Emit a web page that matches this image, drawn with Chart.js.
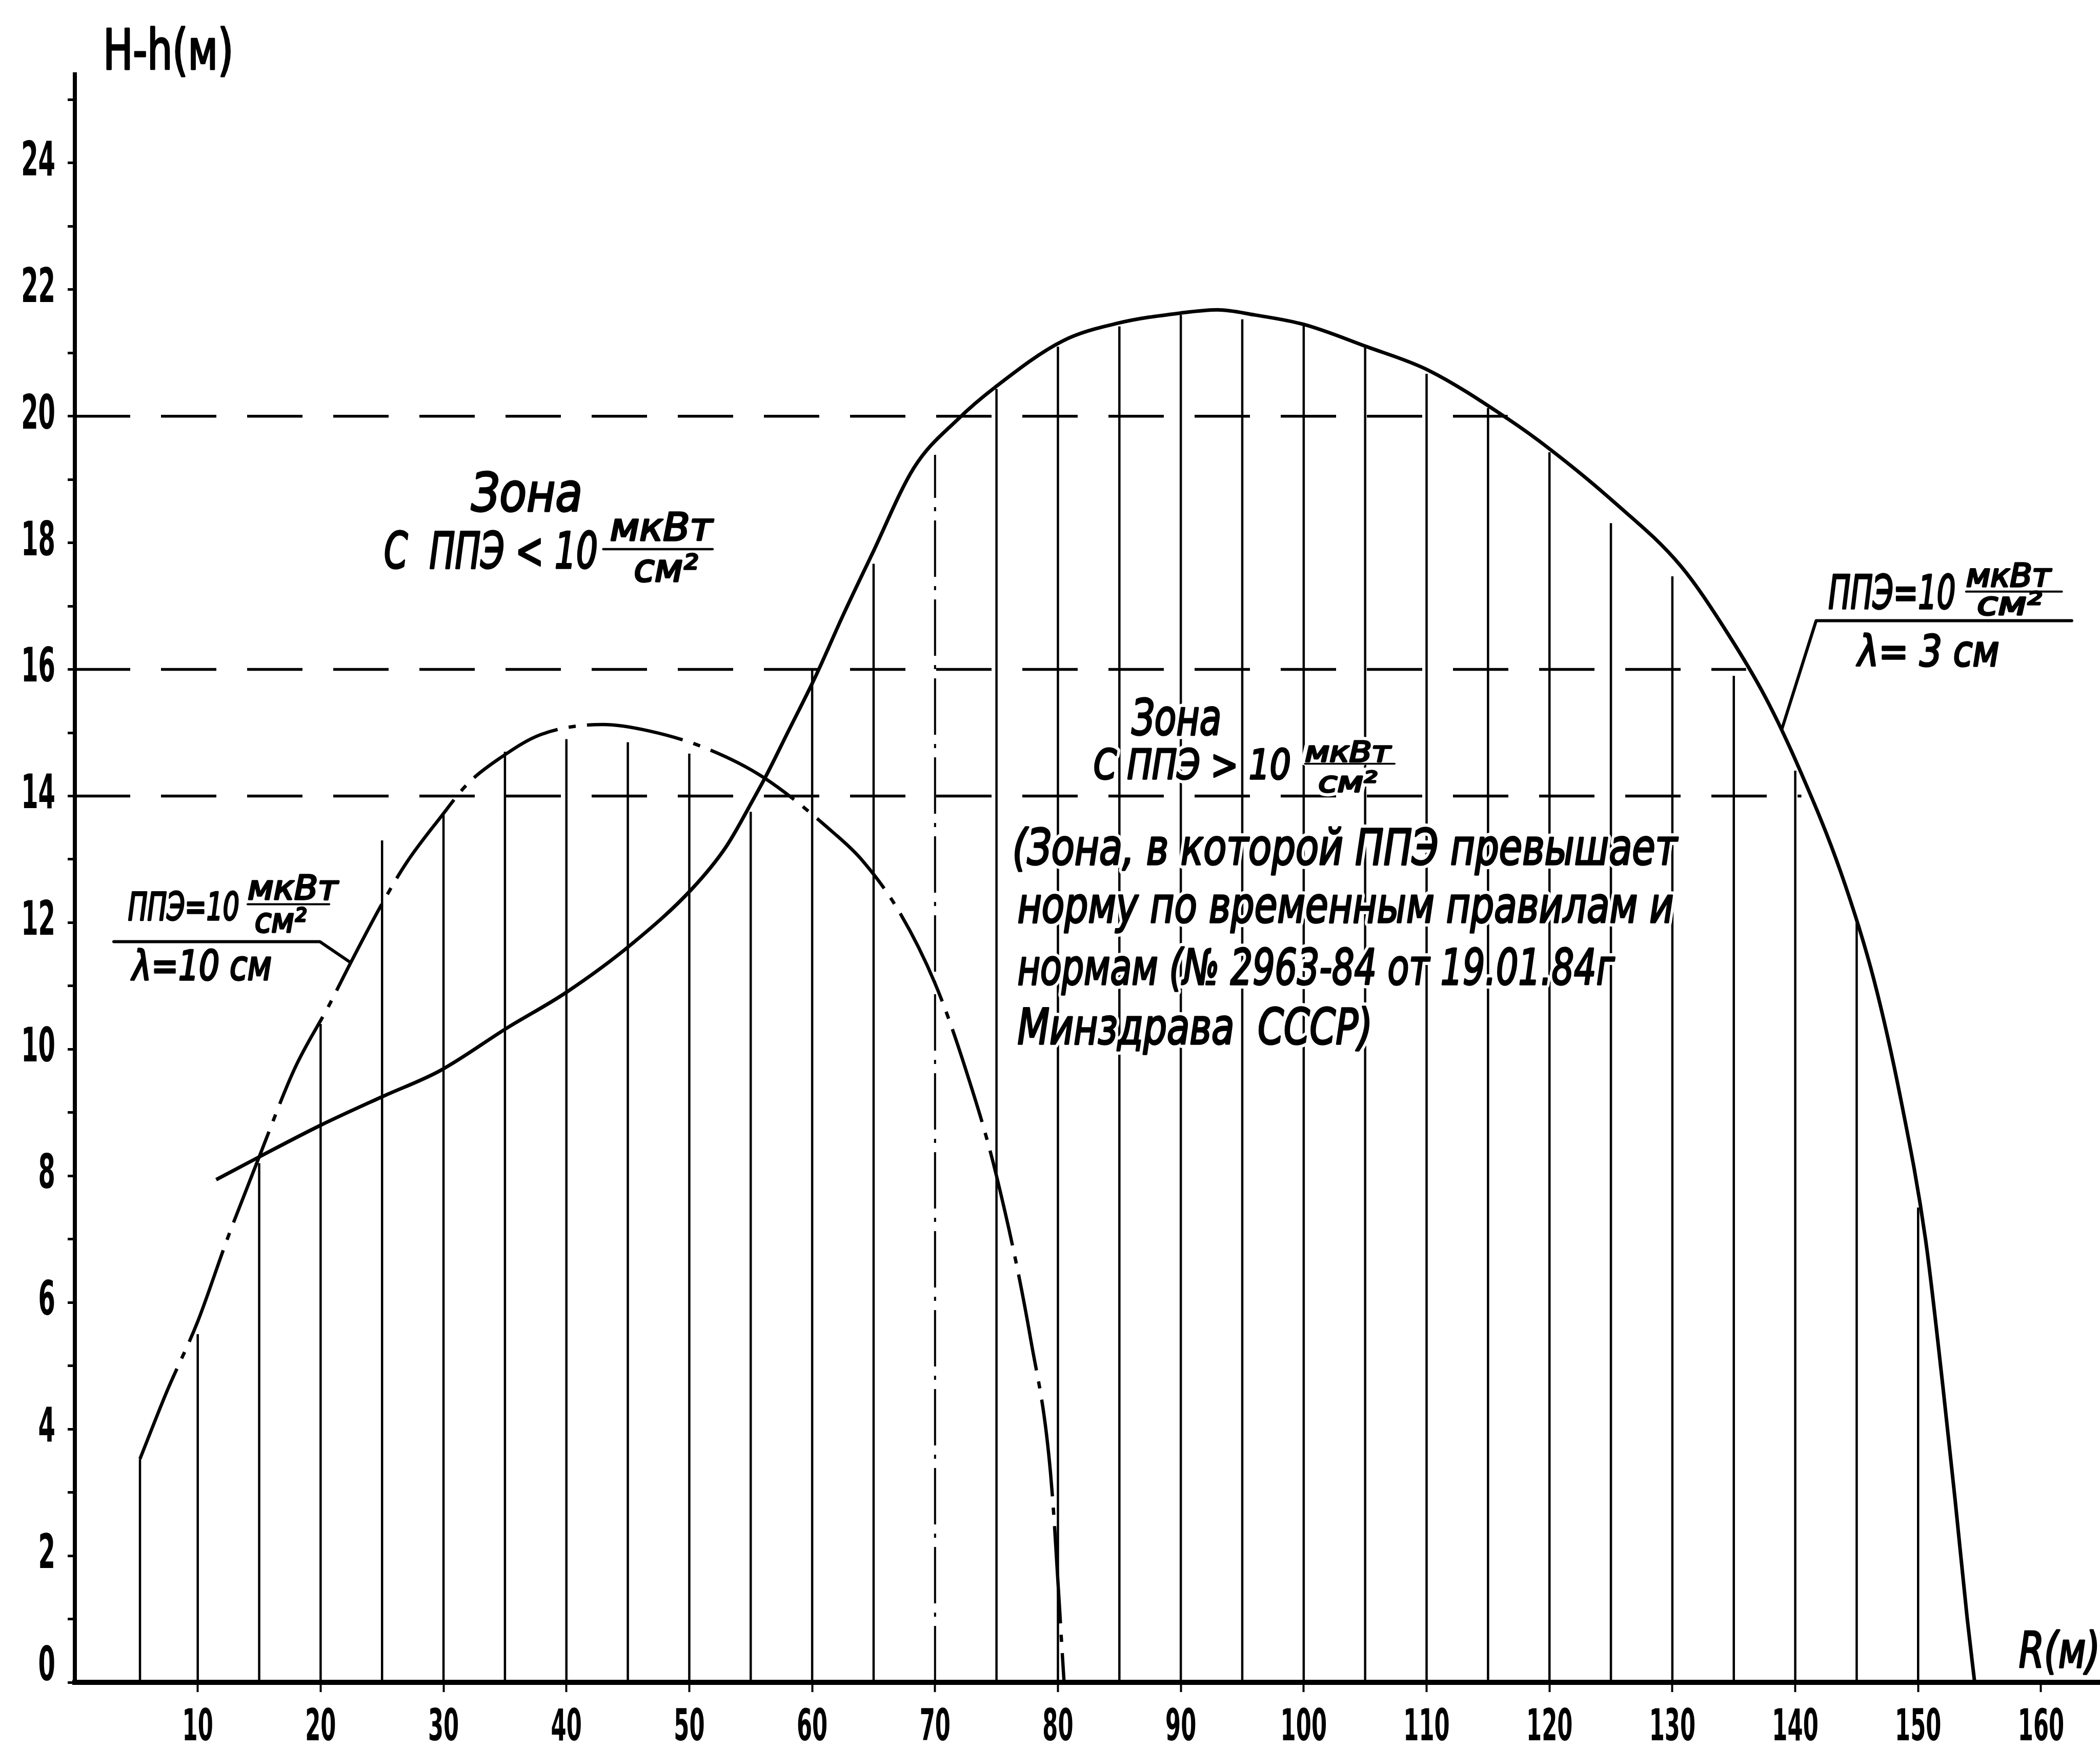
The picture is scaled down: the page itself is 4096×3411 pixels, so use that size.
<!DOCTYPE html>
<html><head><meta charset="utf-8">
<script src="https://cdn.jsdelivr.net/npm/chart.js@4.4.0/dist/chart.umd.min.js"></script>
<style>html,body{margin:0;padding:0;background:#fff;}#wrap{width:4096px;height:3411px;}</style>
</head><body><div id="wrap"><canvas id="c" width="4096" height="3411"></canvas></div>
<script>
// ---- data ----
// Curve: PPE = 10 mkW/cm2, lambda = 3 cm (solid)
const curveA_x = [11.5, 15, 20, 25, 29.7, 35.2, 40, 45.3, 50.25, 53, 55.3, 56.2, 58, 60.3, 62.5, 64.8, 68.3, 71.9, 74.9, 80.4, 84.9, 90, 93, 96, 100, 105.1, 110.1, 116.6, 120.1, 125.1, 130.7, 134.4, 137.6, 140.4, 143.7, 146.4, 148.6, 150.6, 152, 153, 154, 154.6];
const curveA_y = [7.94, 8.3, 8.8, 9.25, 9.66, 10.34, 10.9, 11.66, 12.54, 13.2, 13.98, 14.3, 15.0, 15.9, 16.85, 17.79, 19.19, 19.96, 20.46, 21.19, 21.47, 21.63, 21.68, 21.6, 21.45, 21.1, 20.73, 19.96, 19.47, 18.67, 17.63, 16.6, 15.55, 14.4, 12.8, 11.1, 9.2, 7.0, 4.7, 2.9, 1.0, 0];
// Curve: PPE = 10 mkW/cm2, lambda = 10 cm (dash-dot)
const curveB_x = [5.3, 7.5, 10, 12.4, 15, 17.9, 20.7, 22.4, 25, 27, 29.7, 32, 34.6, 37.9, 43, 46.7, 51.3, 56, 61.8, 64, 67, 70, 72.3, 75, 77.8, 79.4, 80.5];
const curveB_y = [3.53, 4.6, 5.7, 7.0, 8.3, 9.7, 10.7, 11.35, 12.3, 12.95, 13.65, 14.2, 14.6, 14.97, 15.13, 15.03, 14.76, 14.3, 13.41, 13.0, 12.2, 11.04, 9.8, 8.0, 5.4, 3.3, 0];
// Vertical hatching (positions and heights)
const hatchX   = [5.3, 10, 15, 20, 25, 30, 35, 40, 45, 50, 55, 60, 65, 70, 75, 80, 85, 90, 95, 100, 105, 110, 115, 120, 125, 130, 135, 140, 145, 150];
const hatchTop = [3.53, 5.5, 8.2, 10.4, 13.3, 13.7, 14.7, 14.9, 14.85, 14.67, 13.75, 16.0, 17.67, 19.39, 20.43, 21.1, 21.42, 21.6, 21.53, 21.45, 21.1, 20.67, 20.13, 19.43, 18.31, 17.47, 15.9, 14.4, 12.0, 7.5];
const hatchDashedX = [70];
// Horizontal dashed levels and where they end
const levelY   = [20, 16, 14];
const levelEnd = [116.6, 136, 140.5];
// Axis ticks
const xTickValues = [10, 20, 30, 40, 50, 60, 70, 80, 90, 100, 110, 120, 130, 140, 150, 160];
const yLabelValues = [0, 2, 4, 6, 8, 10, 12, 14, 16, 18, 20, 22, 24];
const yMinorValues = [1, 3, 5, 7, 9, 11, 13, 15, 17, 19, 21, 23, 25];

// ---- a linear scale whose tick labels are drawn narrow, like the hand lettering ----
class HandLinearScale extends Chart.LinearScale {
  drawLabels(chartArea) {
    if (!this.options.ticks.display) return;
    const ctx = this.ctx;
    const sx = this.options.ticks.stretch || 1;
    const lift = this.options.ticks.liftZero || 0;
    for (const item of this.getLabelItems(chartArea)) {
      const o = item.options;
      ctx.save();
      ctx.translate(o.translation[0], o.translation[1] - (item.label === '0' ? lift : 0));
      ctx.scale(sx, 1);
      ctx.font = item.font.string;
      ctx.fillStyle = o.color;
      ctx.textAlign = o.textAlign;
      ctx.textBaseline = o.textBaseline;
      ctx.fillText(item.label, 0, item.textOffset);
      ctx.restore();
    }
  }
}
HandLinearScale.id = 'handLinear';
HandLinearScale.defaults = Chart.LinearScale.defaults;
Chart.register(HandLinearScale);

// ---- build datasets ----
const hatchSolid = [], hatchDash = [];
hatchX.forEach((xv, i) => {
  const tgt = hatchDashedX.includes(xv) ? hatchDash : hatchSolid;
  tgt.push({x: xv, y: 0}, {x: xv, y: hatchTop[i]}, {x: xv, y: null});
});
const common = {pointRadius: 0, pointHoverRadius: 0, fill: false, borderColor: '#000', spanGaps: false};
const datasets = [
  Object.assign({label: 'A', data: curveA_x.map((v, i) => ({x: v, y: curveA_y[i]})), borderWidth: 7, cubicInterpolationMode: 'monotone'}, common),
  Object.assign({label: 'B', data: curveB_x.map((v, i) => ({x: v, y: curveB_y[i]})), borderWidth: 6.5, cubicInterpolationMode: 'monotone', borderDash: [190, 22, 14, 22]}, common),
  Object.assign({label: 'hatch', data: hatchSolid, borderWidth: 4.5, tension: 0}, common),
  Object.assign({label: 'hatch70', data: hatchDash, borderWidth: 4, tension: 0, borderDash: [110, 18, 8, 18]}, common)
];
levelY.forEach((lv, i) => {
  datasets.push(Object.assign({label: 'lvl' + lv, data: [{x: 0, y: lv}, {x: levelEnd[i], y: lv}], borderWidth: 5.5, tension: 0, borderDash: [108, 60]}, common));
});

// ---- annotations (positions in data units) ----
const NOTE_FONT = "'DejaVu Sans Condensed', 'DejaVu Sans', sans-serif";
const notes = [
  {t: 'Зона', x: 32.25, y: 18.5, w: 9.06, s: 104, it: true},
  {t: 'С  ППЭ < 10', x: 25.16, y: 17.6, w: 17.4, s: 98, it: true},
  {t: 'мкВт', x: 43.55, y: 18.04, w: 8.34, s: 74, it: true},
  {t: 'см²', x: 45.5, y: 17.39, w: 5.2, s: 74, it: true},
  {t: 'ППЭ=10', x: 142.7, y: 16.96, w: 10.35, s: 90, it: true},
  {t: 'мкВт', x: 153.9, y: 17.31, w: 6.9, s: 62, it: true},
  {t: 'см²', x: 154.8, y: 16.86, w: 5.26, s: 62, it: true},
  {t: 'λ= 3 см', x: 145.1, y: 16.05, w: 11.5, s: 84, it: true},
  {t: 'ППЭ=10', x: 4.33, y: 12.04, w: 9.05, s: 75, it: true},
  {t: 'мкВт', x: 14.06, y: 12.37, w: 7.34, s: 66, it: true},
  {t: 'см²', x: 14.64, y: 11.85, w: 4.2, s: 66, it: true},
  {t: 'λ=10 см', x: 4.67, y: 11.1, w: 11.35, s: 80, it: true},
  {t: 'Зона', x: 86.0, y: 14.97, w: 7.3, s: 96, it: true},
  {t: 'С ППЭ > 10', x: 82.9, y: 14.27, w: 16.06, s: 81, it: true},
  {t: 'мкВт', x: 100.1, y: 14.55, w: 6.97, s: 56, it: true},
  {t: 'см²', x: 101.2, y: 14.07, w: 4.76, s: 56, it: true},
  {t: '(Зона, в которой ППЭ превышает', x: 76.3, y: 12.92, w: 54.1, s: 96, it: true},
  {t: 'норму по временным правилам и', x: 76.7, y: 12.0, w: 53.4, s: 96, it: true},
  {t: 'нормам (№ 2963-84 от 19.01.84г', x: 76.7, y: 11.02, w: 48.6, s: 96, it: true},
  {t: 'Минздрава  СССР)', x: 76.7, y: 10.08, w: 28.9, s: 96, it: true},
  {t: 'H-h(м)', x: 2.3, y: 25.48, w: 10.6, s: 108, it: false},
  {t: 'R(м)', x: 158.2, y: 0.235, w: 6.6, s: 96, it: true}
];
const strokes = [
  {w: 6, p: [[3.17, 11.7], [19.94, 11.7], [22.44, 11.37]]},
  {w: 4, p: [[14.06, 12.29], [20.7, 12.29]]},
  {w: 6, p: [[162.5, 16.77], [141.7, 16.77], [138.9, 15.05]]},
  {w: 4, p: [[153.9, 17.23], [161.7, 17.23]]},
  {w: 4.5, p: [[43.0, 17.9], [51.9, 17.9]]},
  {w: 3.5, p: [[100.1, 14.51], [107.4, 14.51]]}
];

const annotPlugin = {
  id: 'annot',
  afterDatasetsDraw(chart) {
    const ctx = chart.ctx, xs = chart.scales.x, ys = chart.scales.y;
    const X = v => xs.getPixelForValue(v), Y = v => ys.getPixelForValue(v);
    ctx.save();
    ctx.fillStyle = '#000';
    ctx.textBaseline = 'alphabetic';
    ctx.textAlign = 'left';
    for (const n of notes) {
      ctx.font = (n.it ? 'italic ' : '') + n.s + 'px ' + NOTE_FONT;
      const mw = ctx.measureText(n.t).width;
      const target = X(n.x + n.w) - X(n.x);
      const sx = target / mw;
      ctx.save();
      ctx.translate(X(n.x), Y(n.y));
      ctx.scale(sx, 1);
      ctx.lineJoin = 'round';
      ctx.strokeStyle = '#fff';
      ctx.lineWidth = 16;
      ctx.strokeText(n.t, 0, 0);
      ctx.fillText(n.t, 0, 0);
      ctx.strokeStyle = '#000';
      ctx.lineWidth = 3.5;
      ctx.strokeText(n.t, 0, 0);
      ctx.restore();
    }
    ctx.strokeStyle = '#000';
    ctx.lineCap = 'round';
    ctx.lineJoin = 'round';
    for (const s of strokes) {
      ctx.lineWidth = s.w;
      ctx.beginPath();
      s.p.forEach((q, i) => i ? ctx.lineTo(X(q[0]), Y(q[1])) : ctx.moveTo(X(q[0]), Y(q[1])));
      ctx.stroke();
    }
    ctx.restore();
  }
};

const TICK_FONT = "'DejaVu Sans Condensed', 'DejaVu Sans', sans-serif";
new Chart(document.getElementById('c'), {
  type: 'line',
  data: {datasets},
  options: {
    responsive: false,
    animation: false,
    events: [],
    layout: {padding: {top: 145, right: 0, left: 0, bottom: 0}},
    plugins: {legend: {display: false}, tooltip: {enabled: false}},
    scales: {
      x: {
        type: 'handLinear', min: 0, max: 164.8,
        afterBuildTicks: s => { s.ticks = xTickValues.map(v => ({value: v})); },
        afterFit: s => { s.height = 130; },
        grid: {display: true, drawOnChartArea: false, drawTicks: true, tickLength: 19, tickWidth: 4, tickColor: '#000'},
        border: {display: true, color: '#000', width: 10},
        ticks: {color: '#000', font: {family: TICK_FONT, size: 86, weight: 'bold'}, stretch: 0.56, padding: 20, maxRotation: 0, autoSkip: false, callback: v => String(v)}
      },
      y: {
        type: 'handLinear', min: 0, max: 25.4,
        afterBuildTicks: s => { s.ticks = yLabelValues.concat(yMinorValues).sort((a, b) => a - b).map(v => ({value: v})); },
        afterFit: s => { s.width = 146; },
        grid: {display: true, drawOnChartArea: false, drawTicks: true, tickLength: 14, tickWidth: 5, tickColor: '#000'},
        border: {display: true, color: '#000', width: 8},
        ticks: {color: '#000', font: {family: TICK_FONT, size: 92, weight: 'bold'}, stretch: 0.58, liftZero: 28, padding: 24, autoSkip: false, callback: v => yLabelValues.includes(v) ? String(v) : ''}
      }
    }
  },
  plugins: [annotPlugin]
});
</script>
</body></html>
